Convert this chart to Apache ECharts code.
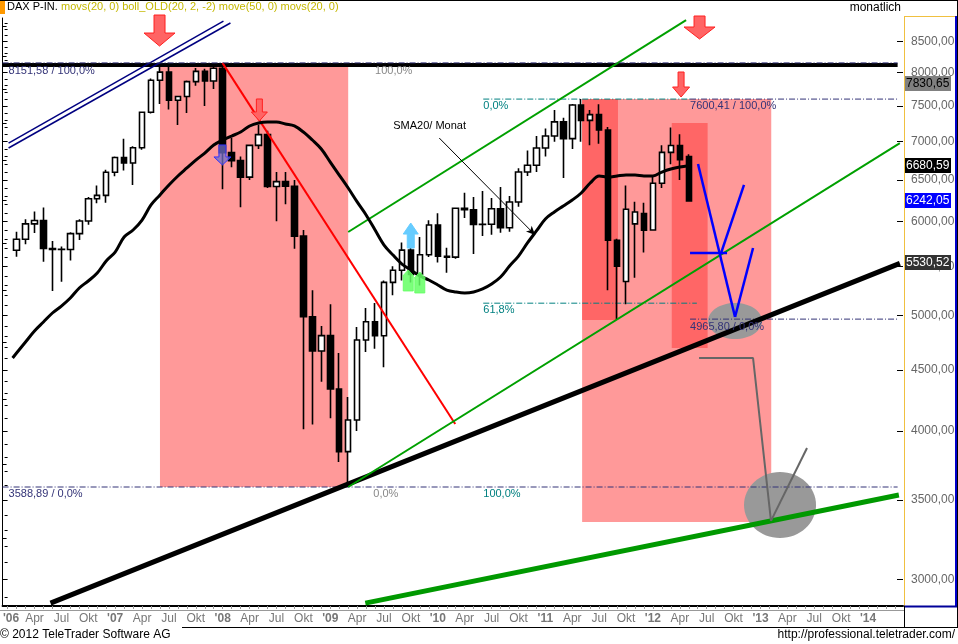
<!DOCTYPE html>
<html><head><meta charset="utf-8">
<script src="https://cdn.jsdelivr.net/npm/echarts@6/dist/echarts.min.js"></script>
<style>html,body{margin:0;padding:0;background:#fff}#c{width:958px;height:644px}</style>
</head><body><div id="c"></div>
<script>
// ---------- DATA (month index: 0 = Jan 2006) ----------
const startMonth = 1; // first candle = Feb 2006
const opens = [5674,5796,5970,6009,5692,5683,5681,5859,6004,6268,6309,
  6597,6789,6716,6917,7409,7883,8007,7584,7638,7862,8019,7871,
  8067,6852,6748,6535,6949,7096,6418,6479,6422,5831,4988,4669,
  4810,4338,3843,4085,4769,4941,4809,5332,5458,5675,5415,5625,
  5957,5608,5598,6153,6135,5964,5966,6148,5925,6229,6601,6688,
  6914,7077,7272,7041,7514,7294,7376,7159,5785,5340,5970,6090,
  5900,6459,6856,6947,6800];
const closes = [5796,5970,6009,5692,5683,5681,5859,6004,6268,6309,6597,
  6789,6716,6917,7409,7883,8007,7584,7638,7862,8019,7871,8067,
  6852,6748,6535,6949,7096,6418,6479,6422,5831,4988,4669,4810,
  4338,3843,4085,4769,4941,4809,5332,5458,5675,5415,5625,5957,
  5608,5598,6153,6135,5964,5966,6148,5925,6229,6601,6688,6914,
  7077,7272,7041,7514,7294,7376,7159,5785,5502,6141,6110,5898,
  6459,6856,6947,6761,6242];
const lows = [5603,5741,5866,5548,5243,5339,5561,5788,5961,6213,6219,
  6545,6620,6437,6890,7390,7530,7450,7229,7400,7800,7500,7750,
  6384,6662,6167,6500,6900,6400,6000,6200,5690,4014,4050,4400,
  4100,3766,3589,4000,4660,4690,4525,5200,5350,5330,5300,5600,
  5540,5433,5580,6040,5632,5832,5845,5870,5880,6170,6550,6600,
  6800,7000,6524,6900,7000,6950,6970,5251,4966,5110,5380,5650,
  5900,6400,6700,6500,6240];
const highs = [5881,6025,6116,6162,5775,5716,5874,6025,6290,6431,6629,
  6800,7040,6939,7420,7908,8090,8152,7650,7880,8070,8060,8100,
  8100,7050,6800,6960,7231,7150,6600,6600,6500,5900,5250,4900,
  5111,4650,4272,4890,5073,5123,5350,5500,5760,5889,5820,6012,
  6094,5700,6160,6341,6290,6362,6277,6412,6300,6650,6880,7077,
  7180,7440,7330,7527,7600,7440,7523,7200,5800,6430,6230,6220,
  6550,6950,7194,7100,6830];
const smaStart = 0.56;
const sma20 = [4606,4651,4751,4853,4938,5025,5093,5173,5274,5346,5429,5557,5654,5821,5900,6015,6193,
  6314,6437,6550,6652,6755,6847,6954,7022,7076,7131,7215,7257,7271,7271,7243,7215,7131,7022,
  6901,6729,6562,6399,6229,6074,5900,5731,5621,5524,5461,5398,5356,5305,5253,5233,5223,5233,
  5264,5314,5387,5503,5610,5754,5889,6027,6109,6180,6252,6338,6462,6550,6537,6550,6562,6562,
  6550,6550,6600,6639,6665,6681];
const yTickValues = [3000,3500,4000,4500,5000,5500,6000,6500,7000,7500,8000,8500];
const xLabelMonths = [];
for (let m = 0; m <= 96; m += 3) xLabelMonths.push(m);
const quarterNames = ['', 'Apr', 'Jul', 'Okt'];

// fibonacci levels
const fibA = { high: 8151.58, low: 3588.89 };
const fibB = { high: 7600.41, low: 4965.80, r618: 5121.29 };
const resistance = 8120;

// trend lines [[month, value], ...]
const navyLineA = [[0.11, 6981], [24.08, 8839]];
const navyLineB = [[0.11, 6914], [24.86, 8805]];
const redLine = [[23.97, 8151.58], [49.94, 4054]];
const blackTrend = [[4.79, 2867], [99.55, 5530.52]];
const greenThick = [[39.91, 2867], [99.44, 3534]];
const greenLower = [[38.0, 3588.89], [99.55, 6981]];
const greenUpper = [[38.0, 5877], [75.7, 8856]];
const blueL1 = [[77.03, 6703], [81.16, 4986]];
const blueL2 = [[79.6, 5643], [82.16, 6437]];
const blueL3 = [[81.16, 4986], [83.17, 5698]];
const blueH = [[76.14, 5643], [80.27, 5643]];
const grayPath = [[77.15, 4606], [83.17, 4606], [85.17, 3361]];
const grayUp = [[85.17, 3361], [89.19, 3870]];
const smaArrow = [[48.16, 7049], [58.86, 5843]];

// zones [m1, v1, m2, v2]
const zones = [[17, 3588.89, 38, 8151.58], [64.1, 3354, 85.2, 7600.41],
  [64.1, 4957, 68.1, 7600.41], [74.1, 4696, 78.1, 7257]];
const ellipses = [[81.16, 4948], [86.18, 3466]];
const arrows = [[16.95, 8422], [77.2, 8537], [28.09, 7285], [75.14, 7631],
  [23.97, 6691], [44.98, 5980], [44.7, 5461], [45.99, 5440]];
const notes = [
  { m: 0.11, v: 8151.58, text: '8151,58 / 100,0%' },
  { m: 41.0, v: 8151.58, text: '100,0%' },
  { m: 0.11, v: 3588.89, text: '3588,89 / 0,0%' },
  { m: 40.8, v: 3588.89, text: '0,0%' },
  { m: 53.07, v: 3588.89, text: '100,0%' },
  { m: 53.07, v: 7600.41, text: '0,0%' },
  { m: 53.07, v: 5121.29, text: '61,8%' },
  { m: 76.14, v: 7600.41, text: '7600,41 / 100,0%' },
  { m: 76.14, v: 4965.80, text: '4965,80 / 0,0%' },
  { m: 43.03, v: 7215, text: 'SMA20/ Monat' }
];
const tags = [
  { v: 7830.65, text: '7830,65' },
  { v: 6680.59, text: '6680,59' },
  { v: 6242.05, text: '6242,05' },
  { v: 5530.52, text: '5530,52' }
];

// ---------- STYLES ----------
const FONT = 'Arial, "Liberation Sans", sans-serif';
const NAVY = '#333377', TEAL = '#008080';
const zoneColors = ['#ff9999', '#ff9999', '#ff6666', '#ff6666'];
const ellipseR = [[27, 18], [36, 33]];
const arrowStyle = [
  { dir: 1, sw: 5.5, hw: 15.5, hh: 13, sl: 18, fill: '#ff6464', stroke: '#ff2020' },
  { dir: 1, sw: 5.5, hw: 15.5, hh: 12, sl: 11, fill: '#ff6464', stroke: '#ff2020' },
  { dir: 1, sw: 3, hw: 8, hh: 9, sl: 13, fill: '#ff6464', stroke: '#ff2020' },
  { dir: 1, sw: 3, hw: 8.5, hh: 10, sl: 15, fill: '#ff6464', stroke: '#ff2020' },
  { dir: 1, sw: 3.5, hw: 8.5, hh: 8, sl: 12, fill: 'rgba(110,110,200,0.75)', stroke: '#3333ff' },
  { dir: -1, sw: 3.5, hw: 7.5, hh: 11, sl: 14, fill: '#66ccff', stroke: '#66ccff' },
  { dir: -1, sw: 5, hw: 5.5, hh: 6, sl: 15, fill: 'rgba(100,255,100,0.85)', stroke: 'rgba(100,255,100,0.85)' },
  { dir: -1, sw: 5, hw: 5.5, hh: 6, sl: 15, fill: 'rgba(100,255,100,0.85)', stroke: 'rgba(100,255,100,0.85)' }
];
const noteStyle = [
  { c: NAVY, dy: 8 }, { c: '#888', dy: 8 }, { c: NAVY, dy: 7 }, { c: '#888', dy: 7 },
  { c: TEAL, dy: 7 }, { c: TEAL, dy: 7 }, { c: TEAL, dy: 7 }, { c: NAVY, dy: 7 },
  { c: NAVY, dy: 8 }, { c: '#000', dy: 0 }
];
const tagStyle = [
  { bg: '#808080', fg: '#000' }, { bg: '#000', fg: '#fff' },
  { bg: '#0000ff', fg: '#fff' }, { bg: '#333', fg: '#fff' }
];

// ---------- BUILD ----------
const L = v => Math.log10(v);
const fmt = v => v.toFixed(2).replace('.', ',');
const pts = arr => arr.map(p => [p[0], L(p[1])]);
const minorVals = [];
for (let v = 2900; v <= 8800; v += 100) minorVals.push(L(v));
const leftVals = [];
for (let v = 3000; v <= 8750; v += 250) leftVals.push(L(v));
const allMonths = [];
for (let m = 0; m <= 99; m++) allMonths.push(m);

function seg(points, color, width, type, z) {
  return { type: 'line', data: pts(points), symbol: 'none', silent: true, z: z || 4,
    lineStyle: { color: color, width: width, type: type || 'solid', cap: 'butt' } };
}
const dashDot = [6, 2, 1, 2];
const X0 = -0.56, X1 = 99.9;
const smaData = sma20.map((v, i) => [i === 0 ? smaStart : startMonth + i - 1, L(v)]);

const chart = echarts.init(document.getElementById('c'), null, { renderer: 'canvas' });
const option = {
  animation: false,
  backgroundColor: '#fff',
  grid: { left: 2, right: 55, top: 18, bottom: 38 },
  xAxis: {
    type: 'value', min: X0, max: X1,
    axisLine: { show: true, lineStyle: { color: '#000', width: 2 } },
    axisTick: { show: true, customValues: allMonths, length: 3, lineStyle: { color: '#999' } },
    axisLabel: {
      customValues: xLabelMonths, color: '#777', fontSize: 12, fontFamily: FONT, margin: 7,
      formatter: function (m) {
        m = Math.round(m);
        if (m % 12 === 0) {
          const yy = String(6 + m / 12).padStart(2, '0');
          return m === 0 ? '{f|\'' + yy + '}' : '{y|\'' + yy + '}';
        }
        return quarterNames[(m % 12) / 3];
      },
      rich: {
        y: { fontWeight: 'bold', color: '#777', fontSize: 12, fontFamily: FONT },
        f: { fontWeight: 'bold', color: '#777', fontSize: 12, fontFamily: FONT, padding: [0, 0, 0, 7] }
      }
    },
    splitLine: { show: false }
  },
  yAxis: [
    { type: 'value', position: 'right', min: L(2851), max: L(8891),
      axisLine: { show: false },
      axisTick: { show: true, inside: true, length: 3, customValues: minorVals, lineStyle: { color: '#000' } },
      axisLabel: { customValues: yTickValues.map(L), color: '#666', fontSize: 12, fontFamily: FONT, margin: 8,
        formatter: v => fmt(Math.pow(10, v)) },
      splitLine: { show: false } },
    { type: 'value', position: 'right', min: L(2851), max: L(8891),
      axisLine: { show: false },
      axisTick: { show: true, inside: true, length: 6, customValues: yTickValues.map(L), lineStyle: { color: '#000' } },
      axisLabel: { show: false }, splitLine: { show: false } },
    { type: 'value', position: 'left', min: L(2851), max: L(8891),
      axisLine: { show: true, lineStyle: { color: '#000', width: 1 } },
      axisTick: { show: true, inside: true, length: 4, customValues: leftVals, lineStyle: { color: '#000' } },
      axisLabel: { show: false }, splitLine: { show: false } }
  ],
  series: [
    { type: 'custom', z: 0, silent: true,
      data: zones.map(z => [z[0], L(z[1]), z[2], L(z[3])]),
      encode: { x: [0, 2], y: [1, 3] },
      renderItem: function (params, api) {
        const p1 = api.coord([api.value(0), api.value(1)]);
        const p2 = api.coord([api.value(2), api.value(3)]);
        return { type: 'rect', shape: { x: Math.min(p1[0], p2[0]), y: Math.min(p1[1], p2[1]),
          width: Math.abs(p2[0] - p1[0]), height: Math.abs(p2[1] - p1[1]) },
          style: { fill: zoneColors[params.dataIndex] } };
      } },
    { type: 'custom', z: 1, silent: true,
      data: ellipses.map(e => [e[0], L(e[1])]),
      renderItem: function (params, api) {
        const p = api.coord([api.value(0), api.value(1)]);
        const r = ellipseR[params.dataIndex];
        return { type: 'ellipse', shape: { cx: p[0], cy: p[1], rx: r[0], ry: r[1] }, style: { fill: '#999999' } };
      } },
    seg([[X0, fibA.low], [99.3, fibA.low]], NAVY, 1, dashDot, 2),
    seg([[53.07, fibB.high], [76.14, fibB.high]], TEAL, 1, dashDot, 2),
    seg([[76.14, fibB.high], [99.3, fibB.high]], NAVY, 1, dashDot, 2),
    seg([[53.07, fibB.r618], [76.9, fibB.r618]], TEAL, 1, dashDot, 2),
    seg([[76.14, fibB.low], [99.3, fibB.low]], NAVY, 1, dashDot, 2),
    { type: 'candlestick', z: 3, barWidth: 6, silent: true,
      encode: { x: 0, y: [1, 2, 3, 4] },
      data: opens.map((o, i) => [startMonth + i, L(o), L(closes[i]), L(lows[i]), L(highs[i])]),
      itemStyle: { color: '#fff', color0: '#000', borderColor: '#000', borderColor0: '#000', borderWidth: 1.6 } },
    seg([[X0, resistance], [99.3, resistance]], '#000', 4, 'solid', 4),
    seg([[X0, fibA.high], [99.3, fibA.high]], NAVY, 1, dashDot, 5),
    seg(navyLineA, '#000080', 1.5),
    seg(navyLineB, '#000080', 1.5),
    seg(redLine, '#ff0000', 2),
    seg(blackTrend, '#000', 5),
    seg(greenThick, '#009900', 5),
    seg(greenLower, '#00a000', 2),
    seg(greenUpper, '#00a000', 2),
    seg(blueL1, '#0000ff', 2.5, 'solid', 6),
    seg(blueL2, '#0000ff', 2.5, 'solid', 6),
    seg(blueL3, '#0000ff', 2.5, 'solid', 6),
    seg(blueH, '#0000ff', 2.5, 'solid', 6),
    seg(grayPath, '#666', 2, 'solid', 6),
    seg(grayUp, '#666', 2, 'solid', 6),
    { type: 'line', z: 5, silent: true, symbol: 'none', smooth: 0.35,
      data: smaData,
      lineStyle: { color: '#000', width: 3 },
      markLine: { silent: true, symbol: ['none', 'arrow'], symbolSize: [6, 9], animation: false,
        label: { show: false }, lineStyle: { color: '#000', width: 1, type: 'solid' },
        data: [[{ coord: [smaArrow[0][0], L(smaArrow[0][1])] }, { coord: [smaArrow[1][0], L(smaArrow[1][1])] }]] } },
    { type: 'custom', z: 8, silent: true,
      data: arrows.map(a => [a[0], L(a[1])]),
      renderItem: function (params, api) {
        const p = api.coord([api.value(0), api.value(1)]);
        const s = arrowStyle[params.dataIndex];
        const d = s.dir, tx = p[0], ty = p[1];
        const hb = ty - d * s.hh, st = hb - d * s.sl;
        return { type: 'polygon', shape: { points: [
          [tx - s.sw, st], [tx + s.sw, st], [tx + s.sw, hb], [tx + s.hw, hb], [tx, ty],
          [tx - s.hw, hb], [tx - s.sw, hb]] },
          style: { fill: s.fill, stroke: s.stroke, lineWidth: 1 } };
      } },
    { type: 'custom', z: 9, silent: true,
      data: notes.map(n => [n.m, L(n.v)]),
      renderItem: function (params, api) {
        const p = api.coord([api.value(0), api.value(1)]);
        const s = noteStyle[params.dataIndex];
        return { type: 'text', x: p[0], y: p[1] + s.dy,
          style: { text: notes[params.dataIndex].text, fill: s.c, font: '11px ' + FONT, verticalAlign: 'middle', align: 'left' } };
      } }
  ]
};
chart.setOption(option);

// tags on the price axis + frame
const g = [];
tags.forEach((t, i) => {
  const y = chart.convertToPixel({ yAxisIndex: 0 }, L(t.v));
  g.push({ type: 'rect', z: 20, shape: { x: 905, y: Math.round(y) - 8, width: 46, height: 15 }, style: { fill: tagStyle[i].bg } });
  g.push({ type: 'text', z: 21, x: 906, y: Math.round(y), style: { text: t.text, fill: tagStyle[i].fg, font: '12px ' + FONT, verticalAlign: 'middle' } });
});
g.push(
  { type: 'rect', z: 20, shape: { x: 0, y: 0, width: 5, height: 14 }, style: { fill: '#ff9900' } },
  { type: 'text', z: 20, x: 7, y: 7, style: { text: 'DAX P-IN.', fill: '#000', font: '11px ' + FONT, verticalAlign: 'middle' } },
  { type: 'text', z: 20, x: 61, y: 7, style: { text: 'movs(20, 0) boll_OLD(20, 2, -2) move(50, 0) movs(20, 0)', fill: '#c4b800', font: '11px ' + FONT, verticalAlign: 'middle' } },
  { type: 'text', z: 20, x: 901, y: 8, style: { text: 'monatlich', fill: '#000', font: '12px ' + FONT, align: 'right', verticalAlign: 'middle' } },
  { type: 'line', z: 20, shape: { x1: 0, y1: 0.5, x2: 958, y2: 0.5 }, style: { stroke: '#000', lineWidth: 1 } },
  { type: 'line', z: 20, shape: { x1: 957.5, y1: 0, x2: 957.5, y2: 628 }, style: { stroke: '#000', lineWidth: 1 } },
  { type: 'line', z: 20, shape: { x1: 904.5, y1: 16, x2: 904.5, y2: 606 }, style: { stroke: '#f0c040', lineWidth: 1 } },
  { type: 'line', z: 20, shape: { x1: 904, y1: 16.5, x2: 956, y2: 16.5 }, style: { stroke: '#f0c040', lineWidth: 1 } },
  { type: 'line', z: 20, shape: { x1: 956, y1: 16, x2: 956, y2: 607 }, style: { stroke: '#0000cc', lineWidth: 2 } },
  { type: 'line', z: 20, shape: { x1: 904, y1: 606.5, x2: 957, y2: 606.5 }, style: { stroke: '#000099', lineWidth: 2 } },
  { type: 'line', z: 20, shape: { x1: 0, y1: 610.5, x2: 904, y2: 610.5 }, style: { stroke: '#999', lineWidth: 1 } },
  { type: 'line', z: 20, shape: { x1: 904.5, y1: 606, x2: 904.5, y2: 628 }, style: { stroke: '#000', lineWidth: 1 } },
  { type: 'line', z: 20, shape: { x1: 182, y1: 627.5, x2: 958, y2: 627.5 }, style: { stroke: '#000', lineWidth: 1 } },
  { type: 'text', z: 20, x: 0, y: 635, style: { text: '© 2012 TeleTrader Software AG', fill: '#000', font: '12px ' + FONT, verticalAlign: 'middle' } },
  { type: 'text', z: 20, x: 955, y: 635, style: { text: 'http://professional.teletrader.com/', fill: '#000', font: '12px ' + FONT, align: 'right', verticalAlign: 'middle' } }
);
chart.setOption({ graphic: g });
</script>
</body></html>
